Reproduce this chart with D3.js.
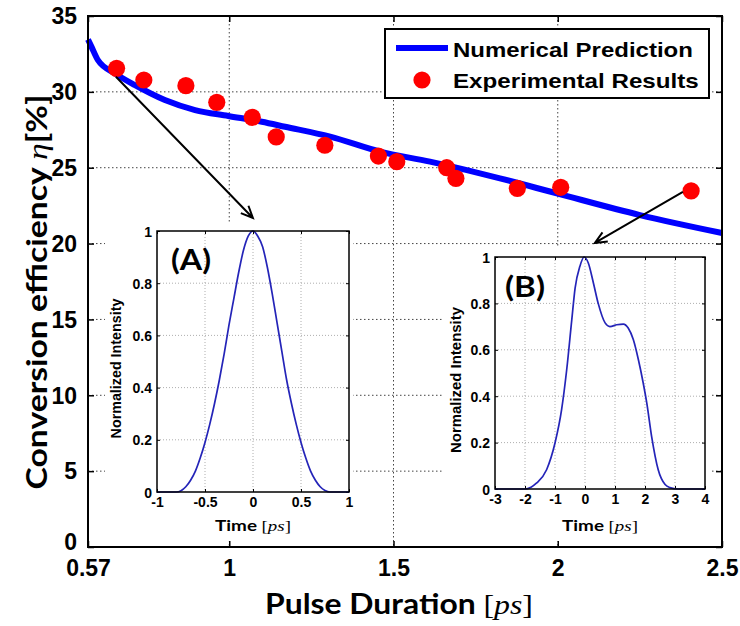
<!DOCTYPE html>
<html>
<head>
<meta charset="utf-8">
<script src="https://cdn.jsdelivr.net/npm/d3@7"></script>
<style>
  html, body { margin: 0; padding: 0; background: #fff; }
  svg { display: block; }
</style>
</head>
<body>
<svg id="chart" width="740" height="626"></svg>
<script>
// ---------------- DATA ----------------
const mainTicksX = [0.57, 1, 1.5, 2, 2.5];
const mainTickLabelsX = ["0.57", "1", "1.5", "2", "2.5"];
const mainTicksY = [0, 5, 10, 15, 20, 25, 30, 35];
const gridX = [1, 1.5, 2];
const gridY = [5, 10, 15, 20, 25, 30];

// Numerical prediction (blue line)
const predX = [0.57, 0.58, 0.60, 0.652, 0.713, 0.804, 0.896, 0.997, 1.099, 1.170, 1.307, 1.459, 1.611, 1.763, 1.824, 1.997, 2.250, 2.50];
const predY = [33.45, 33.0, 32.10, 31.22, 30.44, 29.46, 28.80, 28.41, 28.03, 27.70, 27.05, 26.06, 25.40, 24.63, 24.30, 23.31, 21.88, 20.70];

// Experimental results (red dots)
const expX = [0.657, 0.740, 0.868, 0.962, 1.070, 1.143, 1.291, 1.454, 1.510, 1.662, 1.690, 1.877, 2.009, 2.406];
const expY = [31.55, 30.78, 30.41, 29.31, 28.32, 27.03, 26.48, 25.77, 25.40, 25.00, 24.30, 23.64, 23.71, 23.47];

// Inset (A)
const insetATicksX = [-1, -0.5, 0, 0.5, 1];
const insetATickLabelsX = ["-1", "-0.5", "0", "0.5", "1"];
const insetTicksY = [0, 0.2, 0.4, 0.6, 0.8, 1];
const insetTickLabelsY = ["0", "0.2", "0.4", "0.6", "0.8", "1"];
const insetAT = [-1, -0.8, -0.75, -0.7, -0.65, -0.6, -0.55, -0.5, -0.45, -0.4, -0.35, -0.3, -0.25, -0.2, -0.15, -0.1, -0.05, 0, 0.05, 0.1, 0.15, 0.2, 0.25, 0.3, 0.35, 0.4, 0.45, 0.5, 0.55, 0.6, 0.65, 0.7, 0.75, 0.8, 1];
const insetAI = [0, 0, 0.005, 0.02, 0.045, 0.08, 0.13, 0.19, 0.26, 0.34, 0.43, 0.53, 0.64, 0.74, 0.84, 0.925, 0.98, 1.0, 0.98, 0.94, 0.86, 0.76, 0.65, 0.54, 0.43, 0.34, 0.26, 0.19, 0.13, 0.08, 0.045, 0.02, 0.006, 0, 0];

// Inset (B)
const insetBTicksX = [-3, -2, -1, 0, 1, 2, 3, 4];
const insetBTickLabelsX = ["-3", "-2", "-1", "0", "1", "2", "3", "4"];
const insetBT = [-3, -2, -1.8, -1.61, -1.28, -1.0, -0.78, -0.61, -0.44, -0.33, -0.17, -0.03, 0.11, 0.28, 0.44, 0.67, 0.83, 1.06, 1.28, 1.44, 1.61, 1.78, 1.94, 2.06, 2.22, 2.44, 2.67, 2.83, 3.1, 4];
const insetBI = [0, 0, 0.008, 0.026, 0.083, 0.198, 0.342, 0.514, 0.73, 0.866, 0.96, 1.0, 0.974, 0.888, 0.80, 0.716, 0.70, 0.708, 0.711, 0.694, 0.644, 0.557, 0.457, 0.37, 0.227, 0.083, 0.019, 0.006, 0, 0];

// Arrows (data coordinates of the main axes): [x0, y0, x1, y1]
const arrowA = [0.655, 31.0, 1.072, 21.69];
const arrowB = [2.381, 23.4, 2.113, 20.04];

const legendLabels = ["Numerical Prediction", "Experimental Results"];

// ---------------- LAYOUT ----------------
const svg = d3.select("#chart");
const plot = { left: 88, right: 722, top: 16, bottom: 547 };
const x = d3.scaleLinear().domain([0.57, 2.5]).range([plot.left, plot.right]);
const y = d3.scaleLinear().domain([0, 35]).range([plot.bottom, plot.top]);

const TICK_FONT = "'Liberation Sans', Arial, sans-serif";
const TITLE_FONT = "Lato, 'Open Sans', sans-serif";
const SERIF = "'Liberation Serif', 'DejaVu Serif', serif";

function richText(g, o) {
  const t = g.append("text")
    .attr("text-anchor", o.anchor || "start")
    .style("font-size", o.size + "px")
    .style("font-family", o.family)
    .style("font-weight", o.weight || "bold")
    .attr("fill", "#000");
  o.parts.forEach(p => {
    const ts = t.append("tspan").text(p.t);
    if (p.family) ts.style("font-family", p.family);
    if (p.italic) ts.style("font-style", "italic");
    if (p.weight) ts.style("font-weight", p.weight);
  });
  let s = 1;
  if (o.target) s = o.target / t.node().getComputedTextLength();
  t.attr("transform", `translate(${o.x},${o.y}) rotate(${o.rot || 0}) scale(${s},1)`);
  return t;
}

// grid
const gGrid = svg.append("g");
gGrid.selectAll("line.gx").data(gridX).enter().append("line")
  .attr("x1", d => x(d)).attr("x2", d => x(d))
  .attr("y1", plot.top).attr("y2", plot.bottom)
  .attr("stroke", "#444").attr("stroke-width", 1).attr("stroke-dasharray", "1.5,2.5");
gGrid.selectAll("line.gy").data(gridY).enter().append("line")
  .attr("y1", d => y(d)).attr("y2", d => y(d))
  .attr("x1", plot.left).attr("x2", plot.right)
  .attr("stroke", "#444").attr("stroke-width", 1).attr("stroke-dasharray", "1.5,2.5");

// axes
const axL = svg.append("g").attr("transform", `translate(${plot.left},0)`)
  .call(d3.axisLeft(y).tickValues(mainTicksY).tickSizeInner(-6).tickSizeOuter(0).tickPadding(11));
const axB = svg.append("g").attr("transform", `translate(0,${plot.bottom})`)
  .call(d3.axisBottom(x).tickValues(mainTicksX).tickFormat((d, i) => mainTickLabelsX[i]).tickSizeInner(-6).tickSizeOuter(0).tickPadding(12));
const axR = svg.append("g").attr("transform", `translate(${plot.right},0)`)
  .call(d3.axisRight(y).tickValues(mainTicksY).tickSizeInner(-6).tickSizeOuter(0).tickFormat(""));
const axT = svg.append("g").attr("transform", `translate(0,${plot.top})`)
  .call(d3.axisTop(x).tickValues(mainTicksX).tickSizeInner(-6).tickSizeOuter(0).tickFormat(""));
[axL, axB, axR, axT].forEach(a => {
  a.select(".domain").remove();
  a.selectAll(".tick line").attr("stroke", "#000").attr("stroke-width", 1.5);
  a.selectAll(".tick text").style("font-family", TICK_FONT).style("font-weight", "bold")
    .style("font-size", "23px").attr("fill", "#000");
});
axL.selectAll(".tick text").attr("dy", "0.34em");
axL.selectAll(".tick").filter(d => d === 0).select("text").attr("dy", "0.1em");
axB.selectAll(".tick text").attr("dy", "0.72em");

// prediction line
const line = d3.line().x(d => x(d[0])).y(d => y(d[1])).curve(d3.curveMonotoneX);
svg.append("path").datum(predX.map((v, i) => [v, predY[i]]))
  .attr("d", line).attr("fill", "none").attr("stroke", "#0000ff").attr("stroke-width", 6)
  .attr("stroke-linejoin", "round");

// experimental points
svg.selectAll("circle.exp").data(expX.map((v, i) => [v, expY[i]])).enter().append("circle")
  .attr("cx", d => x(d[0])).attr("cy", d => y(d[1])).attr("r", 8.6).attr("fill", "#ff0000");

// arrows
function drawArrow(a) {
  const x0 = x(a[0]), y0 = y(a[1]), x1 = x(a[2]), y1 = y(a[3]);
  const ang = Math.atan2(y1 - y0, x1 - x0);
  const L = 13, spread = 0.42;
  const h1 = [x1 - L * Math.cos(ang - spread), y1 - L * Math.sin(ang - spread)];
  const h2 = [x1 - L * Math.cos(ang + spread), y1 - L * Math.sin(ang + spread)];
  svg.append("path")
    .attr("d", `M${x0},${y0}L${x1},${y1}M${h1[0]},${h1[1]}L${x1},${y1}L${h2[0]},${h2[1]}`)
    .attr("fill", "none").attr("stroke", "#000").attr("stroke-width", 2);
}
drawArrow(arrowA);
drawArrow(arrowB);

// frame
svg.append("rect").attr("x", plot.left).attr("y", plot.top)
  .attr("width", plot.right - plot.left).attr("height", plot.bottom - plot.top)
  .attr("fill", "none").attr("stroke", "#000").attr("stroke-width", 2);

// insets
function drawInset(o) {
  const g = svg.append("g");
  g.append("rect").attr("x", o.bg[0]).attr("y", o.bg[1])
    .attr("width", o.bg[2] - o.bg[0]).attr("height", o.bg[3] - o.bg[1]).attr("fill", "#fff");
  const ix = d3.scaleLinear().domain(o.xd).range([o.box[0], o.box[2]]);
  const iy = d3.scaleLinear().domain([0, 1]).range([o.box[3], o.box[1]]);
  // grid
  g.selectAll("line.igx").data(o.ticksX.slice(1, -1)).enter().append("line")
    .attr("x1", d => ix(d)).attr("x2", d => ix(d)).attr("y1", o.box[1]).attr("y2", o.box[3])
    .attr("stroke", "#999").attr("stroke-width", 0.8).attr("stroke-dasharray", "1,2");
  g.selectAll("line.igy").data(insetTicksY.slice(1, -1)).enter().append("line")
    .attr("y1", d => iy(d)).attr("y2", d => iy(d)).attr("x1", o.box[0]).attr("x2", o.box[2])
    .attr("stroke", "#999").attr("stroke-width", 0.8).attr("stroke-dasharray", "1,2");
  // axes
  const aL = g.append("g").attr("transform", `translate(${o.box[0]},0)`)
    .call(d3.axisLeft(iy).tickValues(insetTicksY).tickFormat((d, i) => insetTickLabelsY[i]).tickSizeInner(-3).tickSizeOuter(0).tickPadding(5));
  const aB = g.append("g").attr("transform", `translate(0,${o.box[3]})`)
    .call(d3.axisBottom(ix).tickValues(o.ticksX).tickFormat((d, i) => o.labelsX[i]).tickSizeInner(-3).tickSizeOuter(0).tickPadding(5));
  const aR = g.append("g").attr("transform", `translate(${o.box[2]},0)`)
    .call(d3.axisRight(iy).tickValues(insetTicksY).tickFormat("").tickSizeInner(-3).tickSizeOuter(0));
  const aT = g.append("g").attr("transform", `translate(0,${o.box[1]})`)
    .call(d3.axisTop(ix).tickValues(o.ticksX).tickFormat("").tickSizeInner(-3).tickSizeOuter(0));
  [aL, aB, aR, aT].forEach(a => {
    a.select(".domain").remove();
    a.selectAll(".tick line").attr("stroke", "#000").attr("stroke-width", 1);
    a.selectAll(".tick text").style("font-family", TICK_FONT).style("font-weight", "bold")
      .style("font-size", "14px").attr("fill", "#000");
  });
  aL.selectAll(".tick text").attr("dy", "0.36em");
  aB.selectAll(".tick text").attr("dy", "0.72em");
  // curve
  const l = d3.line().x(d => ix(d[0])).y(d => iy(d[1])).curve(d3.curveMonotoneX);
  g.append("path").datum(o.t.map((v, i) => [v, o.v[i]])).attr("d", l)
    .attr("fill", "none").attr("stroke", "#2424b8").attr("stroke-width", 1.7);
  // frame
  g.append("rect").attr("x", o.box[0]).attr("y", o.box[1])
    .attr("width", o.box[2] - o.box[0]).attr("height", o.box[3] - o.box[1])
    .attr("fill", "none").attr("stroke", "#000").attr("stroke-width", 1.5);
  // labels
  richText(g, { x: o.ylabX, y: (o.box[1] + o.box[3]) / 2 + 7, rot: -90, anchor: "middle", size: 14.5,
    family: TICK_FONT, target: o.ylabLen, parts: [{ t: "Normalized Intensity" }] });
  richText(g, { x: (o.box[0] + o.box[2]) / 2, y: 531, anchor: "middle", size: 15.5,
    family: TITLE_FONT, target: 76,
    parts: [{ t: "Time " }, { t: "[", family: SERIF, weight: "normal" }, { t: "ps", family: SERIF, italic: true, weight: "normal" }, { t: "]", family: SERIF, weight: "normal" }] });
  richText(g, { x: o.tag[0], y: o.tag[1], anchor: "start", size: 28, family: TITLE_FONT,
    target: 40, parts: [{ t: o.tagText }] });
}

drawInset({ box: [157, 231, 349, 492], bg: [105, 222, 353, 541], xd: [-1, 1],
  ticksX: insetATicksX, labelsX: insetATickLabelsX, t: insetAT, v: insetAI,
  ylabX: 121, ylabLen: 140, tag: [171, 270], tagText: "(A)" });
drawInset({ box: [495, 257, 705, 489], bg: [443, 246, 712, 541], xd: [-3, 4],
  ticksX: insetBTicksX, labelsX: insetBTickLabelsX, t: insetBT, v: insetBI,
  ylabX: 461, ylabLen: 146, tag: [505, 297], tagText: "(B)" });

// legend
const lg = svg.append("g");
lg.append("rect").attr("x", 385).attr("y", 29).attr("width", 324).attr("height", 69)
  .attr("fill", "#fff").attr("stroke", "#000").attr("stroke-width", 2);
lg.append("line").attr("x1", 396).attr("x2", 448).attr("y1", 48).attr("y2", 48)
  .attr("stroke", "#0000ff").attr("stroke-width", 6);
lg.append("circle").attr("cx", 422).attr("cy", 80).attr("r", 8.6).attr("fill", "#ff0000");
richText(lg, { x: 453, y: 56.5, size: 21, family: TICK_FONT, target: 240, parts: [{ t: legendLabels[0] }] });
richText(lg, { x: 453, y: 87.5, size: 21, family: TICK_FONT, target: 246, parts: [{ t: legendLabels[1] }] });

// axis titles
richText(svg, { x: 399, y: 614, anchor: "middle", size: 28, family: TITLE_FONT, target: 268,
  parts: [{ t: "Pulse Duration " }, { t: "[", family: SERIF, weight: "normal" }, { t: "ps", family: SERIF, italic: true, weight: "normal" }, { t: "]", family: SERIF, weight: "normal" }] });
richText(svg, { x: 47, y: 292, rot: -90, anchor: "middle", size: 28, family: TITLE_FONT, target: 395,
  parts: [{ t: "Conversion efficiency " }, { t: "η", family: SERIF, italic: true, weight: "normal" }, { t: "[%]" }] });
</script>
</body>
</html>
